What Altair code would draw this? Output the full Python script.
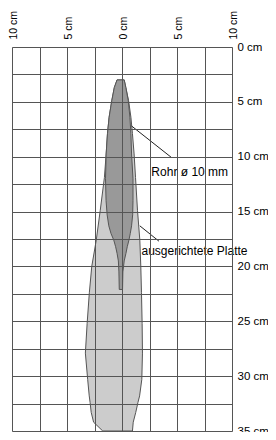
import altair as alt
import pandas as pd

# grid positions (cm)
x_steps = [-10, -7.5, -5, -2.5, 0, 2.5, 5, 7.5, 10]
depth_steps = [0, 2.5, 5, 7.5, 10, 12.5, 15, 17.5, 20, 22.5, 25, 27.5, 30, 32.5, 35]

# light shape: "ausgerichtete Platte" (depth, left edge, right edge in cm)
plate_depth = [3.0, 3.7, 4.9, 6.4, 7.9, 9.75, 11.9, 14.9, 17.6, 20.0, 22.4, 25.2, 27.9, 30.3, 31.8, 32.4, 33.3, 34.2, 35.0]
plate_left = [-0.45, -0.7, -0.93, -1.17, -1.32, -1.44, -1.6, -1.98, -2.34, -2.75, -2.97, -3.17, -3.33, -3.12, -2.98, -2.9, -2.8, -2.58, -1.75]
plate_right = [0.2, 0.35, 0.6, 0.81, 0.95, 1.1, 1.23, 1.41, 1.62, 1.71, 1.77, 1.83, 1.86, 1.8, 1.6, 1.45, 1.25, 1.02, 0.95]

# dark shape: "Rohr ø 10 mm"
tube_depth = [3.0, 3.7, 4.9, 6.4, 7.9, 9.75, 12.0, 14.0, 15.3, 16.3, 17.0, 17.6, 18.2, 18.8, 19.5, 20.5, 22.1]
tube_left = [-0.45, -0.7, -0.93, -1.17, -1.32, -1.44, -1.5, -1.45, -1.35, -1.2, -1.0, -0.75, -0.58, -0.45, -0.33, -0.28, -0.25]
tube_right = [0.2, 0.35, 0.57, 0.72, 0.81, 0.87, 1.0, 1.0, 0.97, 0.87, 0.75, 0.63, 0.48, 0.36, 0.2, 0.08, 0.05]

# annotations
label_text = ["Rohr ø 10 mm", "ausgerichtete Platte"]
label_x = [2.67, 1.77]
label_y = [11.4, 18.6]
leader_x1 = [0.87, 1.62]
leader_y1 = [7.2, 16.3]
leader_x2 = [4.47, 3.36]
leader_y2 = [10.05, 17.7]

FONT = "Liberation Sans"
LINE = "#555555"

plate_df = pd.DataFrame({"depth": plate_depth, "left": plate_left, "right": plate_right})
tube_df = pd.DataFrame({"depth": tube_depth, "left": tube_left, "right": tube_right})
label_df = pd.DataFrame({"text": label_text, "x": label_x, "y": label_y})
leader_df = pd.DataFrame({"x1": leader_x1, "y1": leader_y1, "x2": leader_x2, "y2": leader_y2})

x_scale = alt.Scale(domain=[-10, 10], nice=False, zero=False)
y_scale = alt.Scale(domain=[0, 35], nice=False, zero=False, reverse=True)

x_axis = alt.Axis(
    orient="top", values=x_steps, title=None, ticks=False, domain=False,
    grid=True, gridColor=LINE, gridOpacity=1, gridWidth=1,
    labelExpr="datum.value % 5 == 0 ? abs(datum.value) + ' cm' : ''",
    labelAngle=270, labelAlign="left", labelBaseline="middle",
    labelFont=FONT, labelFontSize=10.5, labelColor="#000000",
    labelPadding=8, labelOffset=1.5, labelFlush=False, labelOverlap=False, zindex=1,
)
y_axis = alt.Axis(
    orient="right", values=depth_steps, title=None, ticks=False, domain=False,
    grid=True, gridColor=LINE, gridOpacity=1, gridWidth=1,
    labelExpr="datum.value % 5 == 0 ? datum.value + ' cm' : ''",
    labelAlign="left", labelBaseline="middle",
    labelFont=FONT, labelFontSize=11.5, labelColor="#000000",
    labelPadding=5, labelFlush=False, labelOverlap=False, zindex=1,
)

plate = alt.Chart(plate_df).mark_area(
    orient="horizontal", fill="#cccccc", stroke=LINE, strokeWidth=1
).encode(
    y=alt.Y("depth:Q", scale=y_scale, axis=y_axis),
    x=alt.X("left:Q", scale=x_scale, axis=x_axis),
    x2="right:Q",
)

tube = alt.Chart(tube_df).mark_area(
    orient="horizontal", fill="#999999", stroke=LINE, strokeWidth=1
).encode(
    y=alt.Y("depth:Q", scale=y_scale, axis=y_axis),
    x=alt.X("left:Q", scale=x_scale, axis=x_axis),
    x2="right:Q",
)

leaders = alt.Chart(leader_df).mark_rule(color="#222222", strokeWidth=1).encode(
    x=alt.X("x1:Q", scale=x_scale, axis=x_axis),
    y=alt.Y("y1:Q", scale=y_scale, axis=y_axis),
    x2="x2:Q",
    y2="y2:Q",
)

labels = alt.Chart(label_df).mark_text(
    align="left", baseline="middle", font=FONT, fontSize=12, color="#000000"
).encode(
    x=alt.X("x:Q", scale=x_scale, axis=x_axis),
    y=alt.Y("y:Q", scale=y_scale, axis=y_axis),
    text="text:N",
)

chart = alt.layer(plate, tube, leaders, labels).properties(
    width=220, height=384,
    autosize=alt.AutoSizeParams(type="none"),
    padding={"left": 4, "top": 39, "right": 36, "bottom": 1},
).configure_view(stroke=LINE, strokeWidth=1).configure(background="white")

chart.save("out.html", embed_options={"renderer": "svg", "actions": False})
